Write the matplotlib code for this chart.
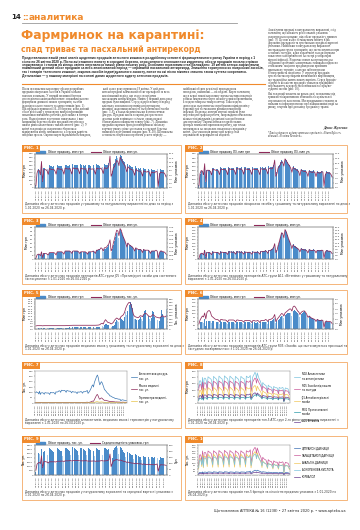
import textwrap
import numpy as np
import pandas as pd
import matplotlib
matplotlib.use('Agg')
import matplotlib.pyplot as plt
from matplotlib.patches import Rectangle, Patch
from matplotlib.lines import Line2D

# daily data, 1.01.2020 - 26.04.2020 (first row Wed-Sun, then Mon-Sun weeks)
DATES = pd.date_range('2020-01-01', '2020-04-26', freq='D')
DAY_LABELS = [d.strftime('%d.%m.%y') for d in DATES]

FIG1_SALES = [
    40, 210, 250, 240, 180,
    330, 90, 270, 270, 270, 250, 200,
    300, 290, 285, 280, 285, 260, 210,
    305, 295, 290, 288, 290, 262, 212,
    310, 300, 295, 292, 300, 268, 215,
    315, 305, 300, 298, 305, 270, 218,
    312, 302, 298, 295, 300, 268, 216,
    310, 300, 296, 294, 298, 266, 214,
    312, 302, 298, 296, 310, 275, 222,
    318, 308, 305, 310, 335, 400, 190,
    230, 320, 330, 380, 420, 400, 330,
    440, 420, 390, 360, 340, 300, 240,
    320, 300, 290, 280, 275, 245, 195,
    285, 270, 262, 258, 262, 235, 185,
    268, 255, 250, 248, 258, 240, 180,
    250, 240, 235, 240, 255, 250, 30,
    200, 245, 238, 232, 235, 212, 170]
FIG1_PACKS = [
    1.0, 7.0, 8.5, 8.2, 6.2,
    12.5, 3.0, 8.6, 8.6, 8.6, 8.0, 6.4,
    9.2, 8.9, 8.7, 8.6, 8.7, 8.0, 6.5,
    9.3, 9.0, 8.9, 8.8, 8.9, 8.1, 6.5,
    9.4, 9.1, 9.0, 8.9, 9.2, 8.2, 6.6,
    9.5, 9.2, 9.1, 9.0, 9.3, 8.3, 6.7,
    9.4, 9.1, 9.0, 8.9, 9.1, 8.2, 6.6,
    9.3, 9.0, 8.9, 8.9, 9.0, 8.1, 6.5,
    9.4, 9.1, 9.0, 9.0, 9.4, 8.4, 6.8,
    9.6, 9.3, 9.2, 9.4, 10.5, 15.0, 5.5,
    6.8, 9.6, 10.0, 11.5, 13.0, 12.5, 10.5,
    14.5, 13.5, 12.5, 11.5, 10.8, 9.5, 7.6,
    10.0, 9.4, 9.0, 8.7, 8.6, 7.6, 6.0,
    8.8, 8.3, 8.0, 7.9, 8.0, 7.2, 5.6,
    8.2, 7.8, 7.6, 7.5, 7.9, 7.4, 5.5,
    7.6, 7.3, 7.1, 7.3, 7.8, 7.7, 0.8,
    6.0, 7.5, 7.3, 7.1, 7.2, 6.5, 5.2]

FIG2_SALES = [
    30, 170, 200, 195, 145,
    255, 70, 215, 215, 215, 200, 160,
    240, 232, 228, 224, 228, 208, 168,
    244, 236, 232, 230, 232, 210, 170,
    248, 240, 236, 234, 240, 214, 172,
    252, 244, 240, 238, 244, 216, 174,
    250, 242, 238, 236, 240, 214, 173,
    248, 240, 237, 235, 238, 213, 171,
    250, 242, 238, 237, 248, 220, 178,
    254, 246, 244, 248, 268, 300, 150,
    185, 258, 268, 300, 325, 315, 265,
    345, 330, 308, 288, 272, 240, 192,
    256, 240, 232, 224, 220, 196, 156,
    228, 216, 210, 206, 210, 188, 148,
    214, 204, 200, 198, 206, 192, 144,
    200, 192, 188, 192, 204, 200, 25,
    160, 196, 190, 186, 188, 170, 136]
FIG2_PACKS = [
    0.8, 6.0, 7.2, 7.0, 5.3,
    10.0, 2.5, 7.3, 7.3, 7.3, 6.8, 5.4,
    7.8, 7.6, 7.4, 7.3, 7.4, 6.8, 5.5,
    7.9, 7.7, 7.6, 7.5, 7.6, 6.9, 5.5,
    8.0, 7.8, 7.7, 7.6, 7.8, 7.0, 5.6,
    8.1, 7.9, 7.8, 7.7, 7.9, 7.1, 5.7,
    8.0, 7.8, 7.7, 7.6, 7.8, 7.0, 5.6,
    7.9, 7.7, 7.6, 7.6, 7.7, 6.9, 5.5,
    8.0, 7.8, 7.7, 7.7, 8.0, 7.2, 5.8,
    8.2, 8.0, 7.9, 8.0, 9.0, 11.5, 4.8,
    6.0, 8.3, 8.7, 9.8, 10.8, 10.5, 9.0,
    12.0, 11.3, 10.5, 9.7, 9.1, 8.1, 6.5,
    8.5, 8.0, 7.7, 7.4, 7.3, 6.5, 5.1,
    7.5, 7.1, 6.9, 6.8, 6.9, 6.2, 4.8,
    7.0, 6.7, 6.5, 6.4, 6.8, 6.4, 4.7,
    6.5, 6.3, 6.1, 6.3, 6.7, 6.6, 0.7,
    5.2, 6.4, 6.3, 6.1, 6.2, 5.6, 4.5]

FIG3_SALES = [
    1, 5, 6, 6, 4,
    8, 2, 7, 7, 7, 6, 5,
    8, 8, 8, 8, 8, 7, 5,
    9, 9, 9, 9, 9, 8, 6,
    10, 10, 10, 10, 10, 9, 7,
    10, 10, 10, 10, 10, 9, 7,
    9, 9, 9, 9, 9, 8, 6,
    9, 9, 9, 9, 10, 9, 7,
    11, 11, 11, 12, 13, 12, 9,
    13, 13, 14, 15, 17, 20, 9,
    12, 18, 22, 28, 33, 32, 26,
    36, 34, 30, 27, 24, 20, 15,
    20, 18, 17, 16, 15, 13, 10,
    14, 13, 12, 12, 12, 11, 8,
    12, 11, 11, 11, 11, 10, 7,
    10, 10, 10, 10, 11, 10, 1,
    8, 10, 10, 9, 9, 8, 6]
FIG3_PACKS = [
    0.1, 0.5, 0.6, 0.6, 0.4,
    0.9, 0.2, 0.7, 0.7, 0.7, 0.6, 0.5,
    0.8, 0.8, 0.8, 0.8, 0.8, 0.7, 0.5,
    0.9, 0.9, 0.9, 0.9, 0.9, 0.8, 0.6,
    1.0, 1.0, 1.0, 1.0, 1.0, 0.9, 0.7,
    1.0, 1.0, 1.0, 1.0, 1.0, 0.9, 0.7,
    0.9, 0.9, 0.9, 0.9, 0.9, 0.8, 0.6,
    0.9, 0.9, 0.9, 0.9, 1.0, 0.9, 0.7,
    1.1, 1.1, 1.2, 1.2, 1.4, 1.3, 1.0,
    1.4, 1.4, 1.5, 1.7, 1.9, 2.4, 1.0,
    1.3, 2.0, 2.5, 3.1, 3.6, 3.5, 2.9,
    3.8, 3.6, 3.1, 2.7, 2.4, 2.0, 1.5,
    2.0, 1.8, 1.7, 1.6, 1.5, 1.3, 1.0,
    1.4, 1.3, 1.2, 1.2, 1.2, 1.1, 0.8,
    1.2, 1.1, 1.1, 1.1, 1.1, 1.0, 0.7,
    1.0, 1.0, 1.0, 1.0, 1.1, 1.0, 0.1,
    0.8, 1.0, 1.0, 0.9, 0.9, 0.8, 0.6]

FIG4_SALES = [
    5, 40, 50, 48, 35,
    70, 15, 55, 55, 55, 50, 38,
    60, 58, 57, 56, 57, 52, 40,
    60, 58, 57, 56, 57, 52, 40,
    62, 60, 59, 58, 60, 54, 42,
    62, 60, 59, 58, 60, 54, 42,
    60, 58, 57, 57, 58, 53, 41,
    60, 58, 58, 57, 60, 54, 42,
    64, 62, 62, 64, 70, 64, 48,
    72, 72, 76, 82, 95, 120, 55,
    70, 110, 140, 175, 205, 200, 165,
    225, 210, 185, 160, 140, 115, 85,
    115, 105, 98, 92, 88, 78, 60,
    85, 80, 77, 75, 76, 68, 52,
    78, 74, 72, 72, 75, 70, 52,
    72, 70, 68, 70, 74, 72, 8,
    58, 70, 68, 66, 66, 60, 46]
FIG4_PACKS = [
    0.4, 3.6, 4.5, 4.4, 3.2,
    6.8, 1.2, 5.0, 5.0, 5.0, 4.6, 3.4,
    5.5, 5.3, 5.2, 5.1, 5.2, 4.7, 3.6,
    5.5, 5.3, 5.2, 5.1, 5.2, 4.7, 3.6,
    5.7, 5.5, 5.4, 5.3, 5.5, 4.9, 3.8,
    5.7, 5.5, 5.4, 5.3, 5.5, 4.9, 3.8,
    5.5, 5.3, 5.2, 5.2, 5.3, 4.8, 3.7,
    5.5, 5.3, 5.3, 5.2, 5.5, 4.9, 3.8,
    5.9, 5.7, 5.7, 5.9, 6.5, 5.9, 4.4,
    6.7, 6.7, 7.1, 7.7, 9.0, 12.0, 5.0,
    6.5, 10.5, 13.5, 17.0, 20.5, 20.0, 16.5,
    23.0, 21.5, 18.8, 16.0, 13.8, 11.2, 8.2,
    11.0, 10.0, 9.3, 8.7, 8.3, 7.4, 5.6,
    8.0, 7.5, 7.2, 7.0, 7.1, 6.3, 4.8,
    7.3, 6.9, 6.7, 6.7, 7.0, 6.5, 4.8,
    6.7, 6.5, 6.3, 6.5, 6.9, 6.7, 0.7,
    5.3, 6.5, 6.3, 6.1, 6.1, 5.5, 4.2]

FIG5_SALES = [
    0.2, 0.8, 0.9, 0.9, 0.7,
    1.1, 0.3, 0.9, 0.9, 0.9, 0.8, 0.6,
    1.0, 1.0, 1.0, 1.0, 1.0, 0.9, 0.7,
    1.1, 1.1, 1.1, 1.1, 1.1, 1.0, 0.8,
    1.3, 1.3, 1.4, 1.5, 1.6, 1.5, 1.2,
    1.8, 1.8, 1.8, 1.8, 1.8, 1.6, 1.3,
    1.7, 1.7, 1.7, 1.7, 1.7, 1.5, 1.2,
    1.7, 1.7, 1.7, 1.6, 1.7, 1.5, 1.2,
    1.8, 1.8, 2.0, 2.2, 2.8, 2.6, 2.2,
    4.5, 5.5, 4.8, 4.2, 4.0, 3.5, 2.2,
    2.8, 3.5, 4.5, 7.0, 9.5, 8.5, 7.0,
    11.0, 10.5, 9.0, 8.0, 12.0, 17.0, 14.0,
    18.0, 24.0, 27.0, 25.0, 21.0, 15.0, 10.0,
    10.0, 9.5, 9.0, 10.0, 12.0, 10.0, 8.0,
    14.0, 18.0, 19.5, 17.0, 13.0, 10.0, 8.0,
    11.0, 18.0, 17.0, 12.0, 10.0, 9.0, 1.0,
    8.0, 12.0, 19.0, 15.0, 12.0, 13.0, 20.0]
FIG5_PACKS = [
    90, 100, 100, 100, 100,
    100, 95, 100, 100, 100, 100, 100,
    100, 100, 100, 100, 100, 100, 100,
    100, 100, 100, 100, 100, 100, 100,
    100, 102, 104, 106, 108, 110, 110,
    112, 112, 112, 112, 112, 112, 112,
    112, 112, 112, 112, 112, 112, 112,
    112, 112, 112, 112, 112, 112, 112,
    114, 116, 120, 130, 160, 170, 150,
    230, 280, 240, 200, 190, 180, 150,
    170, 200, 260, 300, 330, 310, 280,
    320, 380, 400, 430, 500, 620, 700,
    760, 800, 780, 700, 560, 420, 380,
    360, 350, 340, 360, 400, 390, 370,
    440, 460, 470, 440, 400, 380, 360,
    390, 430, 420, 380, 360, 350, 340,
    330, 350, 380, 400, 370, 360, 390]

FIG6_SALES = [
    10, 45, 50, 50, 38,
    70, 20, 55, 56, 56, 52, 40,
    56, 54, 52, 50, 50, 46, 36,
    52, 50, 48, 47, 47, 43, 34,
    50, 48, 47, 46, 47, 43, 33,
    50, 48, 47, 46, 47, 42, 33,
    48, 46, 45, 44, 45, 41, 32,
    46, 44, 43, 43, 44, 40, 31,
    46, 44, 44, 45, 50, 46, 36,
    52, 52, 55, 58, 65, 75, 40,
    52, 60, 70, 80, 88, 85, 72,
    95, 100, 104, 108, 110, 104, 88,
    118, 125, 122, 112, 104, 98, 82,
    100, 108, 115, 118, 110, 96, 76,
    88, 82, 76, 72, 70, 64, 50,
    64, 60, 58, 58, 60, 58, 8,
    45, 52, 50, 48, 48, 44, 35]
FIG6_PACKS = [
    1.0, 1.8, 2.2, 2.6, 2.4,
    3.2, 2.0, 3.3, 3.6, 3.7, 3.4, 2.6,
    2.4, 2.2, 2.0, 1.9, 1.9, 1.8, 1.5,
    1.9, 1.9, 1.8, 1.8, 1.8, 1.7, 1.4,
    1.8, 1.8, 1.8, 1.8, 1.8, 1.7, 1.4,
    1.8, 1.8, 1.7, 1.7, 1.7, 1.6, 1.4,
    1.7, 1.7, 1.7, 1.7, 1.7, 1.6, 1.3,
    1.7, 1.7, 1.6, 1.6, 1.7, 1.6, 1.3,
    1.7, 1.7, 1.7, 1.7, 1.9, 1.8, 1.5,
    1.9, 1.9, 2.0, 2.1, 2.4, 2.9, 1.5,
    1.9, 2.2, 2.5, 2.8, 3.1, 3.0, 2.6,
    3.2, 3.4, 3.6, 3.8, 4.0, 4.0, 3.6,
    4.4, 4.6, 4.4, 4.0, 3.6, 3.4, 2.9,
    3.3, 3.5, 3.6, 3.6, 3.3, 2.9, 2.3,
    2.6, 2.4, 2.2, 2.1, 2.0, 1.9, 1.5,
    1.9, 1.8, 1.7, 1.7, 1.8, 1.7, 0.3,
    1.4, 1.6, 1.5, 1.5, 1.5, 1.4, 1.1]

FIG7_ANTISEPTIC = [
    95, 105, 100, 98, 85,
    110, 80, 95, 95, 96, 92, 82,
    98, 95, 94, 93, 95, 90, 80,
    100, 97, 96, 96, 98, 92, 82,
    105, 102, 104, 108, 115, 112, 100,
    120, 118, 116, 115, 118, 112, 100,
    118, 115, 112, 110, 112, 106, 95,
    108, 105, 103, 102, 104, 98, 88,
    104, 102, 102, 104, 108, 102, 92,
    106, 105, 106, 108, 112, 118, 90,
    100, 110, 125, 140, 160, 170, 150,
    190, 210, 230, 250, 262, 240, 200,
    170, 185, 200, 190, 170, 150, 125,
    120, 110, 100, 92, 86, 78, 66,
    66, 60, 56, 52, 50, 46, 40,
    42, 40, 38, 36, 36, 34, 20,
    28, 30, 28, 26, 25, 24, 22]
FIG7_MASKS = [
    4, 5, 5, 5, 4,
    6, 3, 5, 5, 5, 5, 4,
    5, 5, 5, 5, 5, 5, 4,
    5, 5, 5, 5, 5, 5, 4,
    5, 5, 5, 6, 6, 6, 5,
    6, 6, 6, 6, 6, 6, 5,
    6, 6, 6, 6, 6, 5, 5,
    5, 5, 5, 5, 5, 5, 4,
    5, 5, 5, 5, 6, 6, 5,
    6, 6, 6, 6, 7, 8, 5,
    6, 7, 9, 12, 16, 18, 16,
    30, 45, 60, 75, 80, 65, 45,
    35, 42, 48, 44, 36, 30, 24,
    26, 24, 22, 20, 18, 16, 13,
    15, 14, 13, 12, 12, 11, 9,
    10, 10, 9, 9, 9, 8, 4,
    7, 8, 8, 7, 7, 7, 6]
FIG7_THERMO = [
    2, 2, 2, 2, 2,
    2, 1, 2, 2, 2, 2, 2,
    2, 2, 2, 2, 2, 2, 2,
    2, 2, 2, 2, 2, 2, 2,
    2, 2, 2, 2, 2, 2, 2,
    2, 2, 2, 2, 2, 2, 2,
    2, 2, 2, 2, 2, 2, 2,
    2, 2, 2, 2, 2, 2, 2,
    2, 2, 2, 2, 2, 2, 2,
    2, 2, 2, 2, 3, 3, 2,
    2, 2, 3, 3, 4, 4, 4,
    6, 8, 10, 12, 12, 10, 8,
    8, 9, 10, 9, 8, 7, 6,
    6, 5, 5, 5, 4, 4, 3,
    3, 3, 3, 3, 3, 3, 3,
    3, 3, 3, 3, 3, 3, 1,
    2, 3, 3, 3, 3, 3, 2]

FIG8_N02 = [
    120, 170, 175, 165, 120,
    200, 110, 190, 195, 190, 170, 120,
    205, 200, 195, 190, 185, 160, 115,
    208, 202, 196, 190, 186, 160, 116,
    210, 204, 198, 192, 188, 162, 118,
    212, 205, 200, 194, 190, 164, 118,
    210, 204, 198, 192, 188, 162, 116,
    208, 202, 196, 190, 186, 160, 115,
    208, 202, 196, 192, 190, 165, 120,
    210, 205, 200, 198, 205, 215, 110,
    150, 200, 215, 225, 240, 230, 190,
    235, 215, 195, 180, 170, 150, 115,
    160, 150, 145, 140, 138, 120, 95,
    140, 132, 128, 125, 124, 110, 88,
    130, 124, 120, 118, 120, 112, 85,
    122, 118, 115, 116, 122, 118, 40,
    100, 118, 115, 112, 112, 100, 80]
FIG8_R05 = [
    100, 140, 145, 138, 100,
    165, 90, 155, 158, 155, 140, 100,
    168, 164, 160, 156, 152, 132, 95,
    170, 166, 161, 157, 153, 133, 96,
    172, 167, 162, 158, 154, 134, 97,
    173, 168, 163, 159, 155, 135, 97,
    172, 167, 162, 158, 154, 134, 96,
    170, 165, 160, 156, 152, 132, 95,
    170, 165, 160, 157, 155, 136, 98,
    172, 168, 164, 162, 168, 175, 90,
    122, 162, 175, 185, 195, 188, 155,
    190, 175, 160, 148, 140, 124, 95,
    132, 124, 120, 116, 114, 100, 78,
    116, 110, 106, 104, 103, 92, 72,
    108, 103, 100, 98, 100, 93, 70,
    101, 98, 95, 96, 101, 98, 32,
    82, 98, 95, 93, 93, 83, 66]
FIG8_J01 = [
    50, 95, 100, 90, 50,
    120, 45, 110, 112, 108, 90, 50,
    120, 115, 110, 104, 98, 75, 42,
    122, 117, 111, 105, 99, 76, 43,
    124, 118, 112, 106, 100, 77, 43,
    125, 119, 113, 107, 101, 78, 44,
    124, 118, 112, 106, 100, 77, 43,
    122, 116, 110, 104, 98, 75, 42,
    122, 116, 110, 105, 100, 78, 45,
    124, 118, 113, 110, 115, 120, 40,
    70, 115, 125, 130, 138, 128, 95,
    132, 120, 108, 98, 92, 76, 50,
    95, 88, 84, 80, 78, 64, 44,
    82, 78, 75, 73, 72, 62, 42,
    76, 72, 70, 68, 70, 63, 40,
    70, 68, 66, 67, 72, 70, 15,
    55, 68, 66, 64, 64, 55, 38]
FIG8_M01 = [
    20, 35, 38, 36, 28,
    42, 22, 40, 41, 40, 37, 28,
    44, 43, 42, 41, 41, 37, 28,
    45, 44, 43, 42, 41, 37, 28,
    45, 44, 43, 42, 42, 38, 29,
    46, 45, 44, 43, 42, 38, 29,
    45, 44, 43, 42, 41, 37, 28,
    44, 43, 42, 41, 41, 37, 28,
    44, 43, 42, 42, 42, 38, 29,
    45, 44, 44, 44, 46, 50, 26,
    34, 46, 52, 58, 64, 62, 52,
    66, 62, 56, 52, 48, 42, 32,
    46, 43, 41, 40, 39, 35, 27,
    40, 38, 37, 36, 36, 32, 25,
    37, 36, 35, 34, 35, 32, 24,
    35, 34, 33, 34, 35, 34, 10,
    28, 34, 33, 32, 32, 29, 23]
FIG8_A11 = [
    30, 55, 58, 55, 40,
    68, 32, 62, 63, 62, 56, 40,
    66, 64, 63, 62, 61, 55, 40,
    67, 65, 64, 62, 61, 55, 40,
    68, 66, 64, 63, 62, 56, 41,
    68, 66, 65, 63, 62, 56, 41,
    67, 65, 64, 62, 61, 55, 40,
    66, 64, 63, 62, 61, 55, 40,
    66, 64, 63, 62, 62, 56, 41,
    66, 65, 64, 64, 67, 72, 36,
    48, 66, 72, 76, 80, 76, 62,
    78, 72, 66, 62, 58, 52, 40,
    60, 57, 55, 54, 53, 47, 36,
    54, 52, 50, 49, 49, 44, 34,
    50, 48, 47, 46, 47, 44, 33,
    47, 46, 45, 46, 48, 46, 14,
    38, 46, 45, 44, 44, 40, 31]

FIG9_PACKS = [
    400, 2400, 2600, 2500, 1500,
    3000, 900, 2700, 2750, 2700, 2300, 1500,
    3100, 3000, 2900, 2800, 2700, 2200, 1450,
    3150, 3050, 2950, 2850, 2750, 2250, 1480,
    3200, 3100, 3000, 2900, 2800, 2280, 1500,
    3250, 3150, 3050, 2950, 2850, 2300, 1520,
    3200, 3100, 3000, 2900, 2800, 2280, 1500,
    3150, 3050, 2950, 2850, 2750, 2250, 1480,
    3150, 3050, 2950, 2880, 2850, 2300, 1520,
    3200, 3100, 3000, 2950, 3000, 3100, 1300,
    2000, 2900, 3100, 3250, 3350, 3150, 2500,
    3300, 3100, 2900, 2700, 2550, 2150, 1500,
    2700, 2550, 2450, 2350, 2300, 1900, 1350,
    2400, 2300, 2200, 2150, 2150, 1800, 1250,
    2250, 2150, 2100, 2050, 2100, 1850, 1200,
    2100, 2050, 2000, 2050, 2150, 2000, 300,
    1700, 2050, 2000, 1950, 1950, 1700, 1200]
FIG9_PRICE = [
    40, 90, 100, 105, 95,
    160, 60, 110, 112, 110, 108, 100,
    110, 110, 110, 110, 110, 110, 108,
    115, 115, 115, 115, 116, 116, 112,
    118, 118, 118, 118, 120, 120, 116,
    120, 120, 120, 120, 121, 121, 118,
    118, 118, 118, 118, 119, 119, 116,
    116, 116, 116, 116, 117, 117, 114,
    116, 116, 116, 117, 119, 120, 116,
    118, 118, 119, 121, 126, 175, 70,
    95, 118, 122, 126, 128, 126, 122,
    125, 122, 118, 115, 112, 110, 106,
    108, 104, 102, 100, 99, 98, 95,
    98, 96, 94, 93, 93, 92, 89,
    92, 90, 88, 88, 89, 89, 86,
    88, 86, 85, 86, 88, 92, 30,
    70, 86, 85, 84, 84, 83, 80]

FIG10_CITRAMON = [
    10, 20, 22, 21, 16,
    26, 12, 24, 24, 24, 22, 16,
    26, 25, 25, 24, 24, 22, 16,
    27, 26, 25, 24, 24, 22, 16,
    27, 26, 25, 25, 24, 22, 17,
    27, 26, 26, 25, 24, 22, 17,
    26, 25, 25, 24, 24, 22, 16,
    26, 25, 25, 24, 24, 22, 16,
    26, 25, 25, 24, 25, 23, 17,
    26, 26, 26, 27, 28, 32, 15,
    20, 28, 32, 36, 40, 38, 32,
    40, 37, 34, 31, 29, 26, 20,
    28, 26, 25, 24, 24, 21, 16,
    24, 23, 22, 22, 22, 20, 15,
    22, 21, 21, 20, 21, 19, 14,
    21, 20, 20, 20, 21, 20, 6,
    17, 20, 20, 19, 19, 17, 13]
FIG10_PARACETAMOL = [
    80, 160, 170, 160, 110,
    200, 90, 185, 188, 185, 165, 115,
    200, 195, 190, 185, 180, 155, 110,
    202, 197, 191, 186, 181, 156, 111,
    204, 198, 192, 187, 182, 157, 112,
    205, 199, 193, 188, 183, 158, 112,
    204, 198, 192, 187, 182, 157, 111,
    202, 196, 190, 185, 180, 155, 110,
    202, 196, 190, 186, 182, 158, 113,
    202, 198, 194, 192, 198, 210, 100,
    140, 195, 210, 220, 230, 222, 180,
    225, 205, 185, 168, 158, 138, 100,
    148, 138, 132, 128, 125, 108, 82,
    128, 120, 116, 113, 112, 98, 76,
    118, 112, 108, 106, 108, 100, 74,
    110, 106, 103, 104, 110, 106, 30,
    88, 106, 103, 100, 100, 90, 70]
FIG10_ANALGIN = [
    50, 130, 140, 125, 70,
    170, 60, 155, 158, 150, 125, 70,
    172, 165, 156, 146, 138, 108, 64,
    174, 166, 157, 147, 139, 109, 65,
    175, 167, 158, 148, 140, 110, 65,
    176, 168, 159, 149, 141, 110, 66,
    175, 167, 158, 148, 140, 110, 65,
    173, 165, 156, 146, 138, 108, 64,
    173, 165, 157, 148, 142, 112, 66,
    174, 166, 158, 152, 160, 170, 60,
    100, 160, 175, 185, 195, 182, 135,
    185, 165, 145, 128, 118, 96, 62,
    118, 108, 102, 97, 94, 78, 54,
    100, 94, 90, 87, 86, 72, 50,
    92, 86, 83, 81, 83, 74, 48,
    85, 82, 79, 80, 86, 82, 18,
    66, 82, 79, 76, 76, 66, 46]
FIG10_ASCORBIC = [
    60, 120, 128, 120, 85,
    150, 70, 140, 142, 140, 125, 88,
    152, 148, 144, 140, 136, 118, 84,
    153, 149, 145, 141, 137, 118, 85,
    154, 150, 146, 142, 138, 119, 85,
    155, 151, 147, 143, 139, 120, 86,
    154, 150, 146, 142, 138, 119, 85,
    152, 148, 144, 140, 136, 118, 84,
    152, 148, 145, 142, 139, 121, 86,
    154, 150, 147, 146, 150, 160, 78,
    108, 148, 160, 168, 175, 168, 136,
    170, 155, 140, 128, 120, 105, 76,
    112, 105, 100, 97, 95, 82, 62,
    97, 91, 88, 86, 85, 74, 58,
    90, 85, 82, 80, 82, 76, 56,
    84, 80, 78, 79, 84, 80, 22,
    67, 80, 78, 76, 76, 68, 53]
FIG10_CORVALOL = [
    6, 12, 13, 12, 9,
    16, 7, 14, 14, 14, 13, 9,
    16, 15, 15, 15, 15, 13, 10,
    16, 16, 15, 15, 15, 13, 10,
    17, 16, 15, 15, 15, 13, 10,
    17, 16, 16, 15, 15, 13, 10,
    16, 16, 15, 15, 15, 13, 10,
    16, 15, 15, 15, 15, 13, 10,
    16, 15, 15, 15, 15, 14, 10,
    16, 16, 16, 16, 17, 19, 9,
    12, 17, 19, 21, 23, 22, 18,
    23, 21, 19, 18, 17, 15, 11,
    16, 15, 14, 14, 14, 12, 9,
    14, 13, 13, 13, 13, 12, 9,
    13, 12, 12, 12, 12, 11, 8,
    12, 12, 11, 12, 12, 12, 3,
    10, 12, 12, 11, 11, 10, 8]

LEAD = ('Представляємо вашій увазі аналіз щоденних продажів аптечного кошика в роздрібному сегменті фармацевтичного ринку України в період '
        'з 1 січня по 26 квітня 2020 р. Після ажіотажного попиту в середині березня, спричиненого оголошенням карантину, обсяги продажів '
        'почали стрімко знижуватися і станом на кінець квітня опустилися нижче рівня початку року. Особливо показовим став Великдень: '
        '19 квітня аптеки зафіксували найменший денний обсяг продажів за весь аналізований період — справжній пасхальний антирекорд. '
        'Зниження торкнулося як лікарських засобів, так і товарів «аптечного кошика», зокрема засобів індивідуального захисту, попит на які '
        'після пікових значень також суттєво скоротився. Детальніше — у нашому матеріалі на основі даних щоденного аудиту аптечних продажів.')

BODY = ('Після оголошення карантину обсяги роздрібних продажів лікарських засобів в Україні зазнали значних коливань. У першій половині '
        'березня спостерігався ажіотажний попит: споживачі масово формували домашні запаси препаратів, засобів індивідуального захисту '
        'та антисептиків (рис. 1). Пік продажів припав на 16–18 березня, коли денний обсяг реалізації у грошовому вимірі перевищив '
        'показники звичайних робочих днів майже в півтора раза. Надалі попит поступово знижувався, і вже наприкінці березня обсяги '
        'продажів опустилися нижче рівня аналогічних тижнів лютого (рис. 2). У квітні тенденція до скорочення збереглася: відвідування '
        'аптек зменшилося, а середня вартість покупки зросла. Окремо варто відзначити Великдень, який цього року припав на 19 квітня. '
        'У цей день аптеки продали найменший обсяг препаратів за весь аналізований період, що стало своєрідним пасхальним антирекордом. '
        'Навіть у перший день року продажі були вищими. Серед лідерів попиту в період ажіотажу опинилися противірусні препарати, '
        'вітаміни, жарознижувальні та знеболювальні засоби (рис. 3–6), а також медичні маски й антисептики для рук. Продажі масок '
        'в окремі дні зростали в десятки разів порівняно з січнем, однак надалі обмежувалися наявністю товару (рис. 7). Динаміка продажів '
        'окремих брендів повторювала загальну картину ринку: різке зростання в середині березня змінилося поступовим спадом (рис. 8–10). '
        'Щотижнева сезонність зберігалася протягом усього періоду — найбільші обсяги реалізації припадали на понеділок, найменші — на неділю. '
        'Варто зазначити, що в перші тижні карантину значна частина покупців робила замовлення через онлайн-сервіси бронювання, '
        'а згодом забирала товар в аптеці. Така модель дозволила скоротити час перебування відвідувачів у торговій залі та зменшити '
        'ризики поширення інфекції. Водночас аптечні мережі змушені були переглянути графіки роботи, запровадити обмеження кількості '
        'відвідувачів і додаткові заходи безпеки для персоналу. Окремі аптеки в торговельних центрах тимчасово припинили роботу, що '
        'також позначилося на загальних показниках продажів у квітні. Для учасників ринку цей період став справжньою перевіркою на міцність.')

RIGHT_TEXT = ('Аналізуючи продажі в натуральному вираженні, слід зазначити, що кількість реалізованих упаковок скорочувалася швидше, '
              'ніж обсяг продажів у гривнях (рис. 9). Це пов’язано зі зміщенням попиту в бік дорожчих препаратів та зростанням '
              'середньої вартості упаковки. Найбільше в натуральному вираженні постраждали групи препаратів, що застосовуються при '
              'сезонних застудах, адже карантинні заходи сприяли зниженню захворюваності на гострі респіраторні вірусні інфекції. '
              'Водночас попит на препарати для лікування хронічних захворювань залишався відносно стабільним: пацієнти продовжували '
              'приймати призначену терапію, а аптеки забезпечували безперервність лікування. У структурі продажів зросла частка '
              'препаратів вітчизняного виробництва, що традиційно мають нижчу вартість. Серед брендів-лідерів за кількістю '
              'проданих упаковок традиційно переважають недорогі знеболювальні та серцево-судинні засоби (рис. 10).')
RIGHT_TEXT_2 = ('Які тенденції чекають на ринок далі, залежатиме від тривалості карантинних обмежень та купівельної спроможності '
                'населення. Ми продовжимо стежити за змінами та інформувати вас про найважливіші події на ринку, зокрема '
                'про динаміку продажів у травні.')

W, H = 360, 530
ORANGE = '#f08a2c'
BORDER = '#f5b57a'
BLUE = '#4a8bc9'
BLUE_LIGHT = '#a6cbeb'
WINE = '#8e2a5a'
INK = '#333333'
SANS = ['DejaVu Sans']
SERIF = ['Liberation Serif', 'DejaVu Serif']

fig = plt.figure(figsize=(3.6, 5.3), dpi=100)
fig.patch.set_facecolor('white')


def frect(x, y, w, h):
    return [x / W, 1 - (y + h) / H, w / W, h / H]


def ftext(x, y, s, **kw):
    kw.setdefault('color', INK)
    return fig.text(x / W, 1 - y / H, s, **kw)


def frame(x, y, w, h, **kw):
    fig.add_artist(Rectangle((x / W, 1 - (y + h) / H), w / W, h / H,
                             transform=fig.transFigure, **kw))


def hline(x0, x1, y, color, lw):
    fig.add_artist(Line2D([x0 / W, x1 / W], [1 - y / H, 1 - y / H],
                          transform=fig.transFigure, color=color, lw=lw))


def text_block(x, y, lines, step, **kw):
    for i, ln in enumerate(lines):
        ftext(x, y + i * step, ln, va='top', **kw)


def style_axes(ax):
    ax.patch.set_alpha(0)
    for s in ax.spines.values():
        s.set_linewidth(0.3)
        s.set_color('#777777')
    ax.tick_params(labelsize=1.7, length=0.8, width=0.25, pad=0.5, colors=INK)
    ax.set_xlim(-0.8, len(DATES) - 0.2)
    ax.set_xticks(np.arange(0, len(DATES), 3))
    ax.set_xticklabels(DAY_LABELS[::3], rotation=90)


def panel(x, y, w, h, num, caption):
    # panel background sits under the axes
    frame(x, y, w, h, facecolor='white', edgecolor=BORDER, lw=0.7, zorder=-5)
    frame(x, y, 18, 6.5, facecolor=ORANGE, edgecolor='none', zorder=5)
    ftext(x + 2.5, y + 3.4, 'РИС. %d' % num, fontsize=2.8, color='white',
          weight='bold', va='center', zorder=6)
    cap = textwrap.wrap(caption, 100)
    text_block(x + 3, y + h - 10.5, cap, 3.2, fontsize=2.1, family=SANS)


def bar_chart(x, y, w, h, num, sales, packs, names, ylabels, left, right, caption):
    panel(x, y, w, h, num, caption)
    ax = fig.add_axes(frect(x + 13, y + 9, w - 27, h - 34))
    xs = np.arange(len(DATES))
    colors = np.where(DATES.dayofweek >= 5, BLUE_LIGHT, BLUE)
    ax.bar(xs, sales, width=0.85, color=colors, linewidth=0)
    ax2 = ax.twinx()
    ax2.plot(xs, packs, color=WINE, lw=0.55)
    style_axes(ax)
    style_axes(ax2)
    ax.set_ylim(0, left[0])
    ax.set_yticks(np.arange(0, left[0] + 1e-9, left[1]))
    ax2.set_ylim(0, right[0])
    ax2.set_yticks(np.arange(0, right[0] + 1e-9, right[1]))
    ax2.yaxis.set_major_formatter(right[2])
    ax.set_ylabel(ylabels[0], fontsize=2.2, labelpad=1)
    ax2.set_ylabel(ylabels[1], fontsize=2.2, labelpad=1)
    handles = [Patch(color=BLUE), Line2D([], [], color=WINE, lw=0.8)]
    ax.legend(handles, names, loc='lower left', bbox_to_anchor=(0.0, 0.98), ncol=2,
              fontsize=2, frameon=False, handlelength=3.5, handleheight=0.8,
              columnspacing=3, borderaxespad=0.1, borderpad=0.1)


def line_chart(x, y, w, h, num, series, names, colors, top, step, ylabel, caption):
    panel(x, y, w, h, num, caption)
    ax = fig.add_axes(frect(x + 13, y + 9, 92, h - 34))
    xs = np.arange(len(DATES))
    for s, n, c in zip(series, names, colors):
        ax.plot(xs, s, color=c, lw=0.5, label=n)
    style_axes(ax)
    ax.set_ylim(0, top)
    ax.set_yticks(np.arange(0, top + 1e-9, step))
    ax.set_ylabel(ylabel, fontsize=2.2, labelpad=1)
    ax.legend(loc='upper left', bbox_to_anchor=(1.03, 1.0), fontsize=1.8, frameon=False,
              handlelength=2.6, handletextpad=0.5, labelspacing=1.3, borderaxespad=0.0)


# ---------- header ----------
ftext(11, 17, '14', fontsize=5, weight='bold', color='#222222', va='center')
ftext(22, 17, '::', fontsize=6, weight='bold', color=ORANGE, va='center')
ftext(29, 17, 'аналитика', fontsize=6.5, weight='bold', color=ORANGE, va='center')
hline(22, 237, 23, '#999999', 0.6)
ftext(21, 35.5, 'Фармринок на карантині:', fontsize=8.9, weight='bold', color=ORANGE,
      va='center')
ftext(21, 49.5, 'спад триває та пасхальний антирекорд', fontsize=5.6, weight='bold',
      color=ORANGE, va='center')
text_block(22, 56, textwrap.wrap(LEAD, 138), 3.5, fontsize=2.3, weight='bold',
           family=['Liberation Sans', 'DejaVu Sans'], color='#222222')
hline(22, 265, 83.5, ORANGE, 0.8)

body_lines = textwrap.wrap(BODY, 50)
n = 15
for k, cx in enumerate([22, 102, 183]):
    text_block(cx, 87, body_lines[k * n:(k + 1) * n], 3.3, fontsize=2.2, family=SERIF)

right_lines = textwrap.wrap(RIGHT_TEXT, 52)
text_block(268, 28, right_lines, 3.3, fontsize=2.2, family=SERIF)
right_lines_2 = textwrap.wrap(RIGHT_TEXT_2, 52)
text_block(268, 28 + 3.3 * len(right_lines) + 1.5, right_lines_2, 3.3, fontsize=2.2,
           family=SERIF)
ftext(348, 128, 'Денис Жуленко', fontsize=2.6, weight='bold', style='italic', ha='right',
      va='center', family=SERIF)
text_block(268, 131, ['*Дані щоденного аудиту аптечних продажів «PharmXplorer»',
                      'компанії «Proxima Research».'], 3.0, fontsize=2.0, style='italic',
           family=SERIF)

# ---------- charts ----------
LX, LW = 22, 159
RX, RW = 185, 162
ROWS = [(145, 68), (218, 66), (290, 64), (362, 66), (436, 64)]
FMT1 = '{x:.1f}'
FMT0 = '{x:.0f}'

bar_chart(LX, ROWS[0][0], LW, ROWS[0][1], 1, FIG1_SALES, FIG1_PACKS,
          ['Обсяг продажу, млн грн', 'Обсяг продажу, млн уп.'], ['Млн грн', 'Млн упаковок'],
          (450, 50), (16, 2, FMT1),
          'Динаміка обсягу аптечних продажів у грошовому та натуральному вираженні по днях '
          'за період з 1.01.2020 по 26.04.2020 р.')
bar_chart(RX, ROWS[0][0], RW, ROWS[0][1], 2, FIG2_SALES, FIG2_PACKS,
          ['Обсяг продажу ЛЗ, млн грн', 'Обсяг продажу ЛЗ, млн уп.'], ['Млн грн', 'Млн упаковок'],
          (400, 50), (14, 2, FMT1),
          'Динаміка обсягу аптечних продажів лікарських засобів у грошовому та натуральному '
          'вираженні по днях з 1.01.2020 по 26.04.2020 р.')
bar_chart(LX, ROWS[1][0], LW, ROWS[1][1], 3, FIG3_SALES, FIG3_PACKS,
          ['Обсяг продажу, млн грн', 'Обсяг продажу, млн уп.'], ['Млн грн', 'Млн упаковок'],
          (40, 5), (4, 0.5, '{x:.2f}'),
          'Динаміка обсягу аптечних продажів препаратів АТС-групи J05 «Противірусні засоби для '
          'системного застосування» з 1.01.2020 по 26.04.2020 р.')
bar_chart(RX, ROWS[1][0], RW, ROWS[1][1], 4, FIG4_SALES, FIG4_PACKS,
          ['Обсяг продажу, млн грн', 'Обсяг продажу, млн уп.'], ['Млн грн', 'Млн упаковок'],
          (250, 25), (25, 2.5, FMT1),
          'Динаміка обсягу аптечних продажів препаратів АТС-групи A11 «Вітаміни» у грошовому '
          'та натуральному вираженні з 1.01.2020 по 26.04.2020 р.')
bar_chart(LX, ROWS[2][0], LW, ROWS[2][1], 5, FIG5_SALES, FIG5_PACKS,
          ['Обсяг продажу, млн грн', 'Обсяг продажу, тис. уп.'], ['Млн грн', 'Тис. упаковок'],
          (30, 2.5), (900, 100, FMT0),
          'Динаміка обсягу аптечних продажів медичних масок у грошовому та натуральному '
          'вираженні по днях з 1.01.2020 по 26.04.2020 р.')
bar_chart(RX, ROWS[2][0], RW, ROWS[2][1], 6, FIG6_SALES, FIG6_PACKS,
          ['Обсяг продажу, млн грн', 'Обсяг продажу, млн уп.'], ['Млн грн', 'Млн упаковок'],
          (200, 25), (6, 1, FMT1),
          'Динаміка обсягу аптечних продажів препаратів АТС-групи R05 «Засоби, що застосовуються '
          'при кашлі та застудних захворюваннях» з 1.01.2020 по 26.04.2020 р.')
line_chart(LX, ROWS[3][0], LW, ROWS[3][1], 7,
           [FIG7_ANTISEPTIC, FIG7_MASKS, FIG7_THERMO],
           ['Антисептики для рук,\nтис. уп.', 'Маски медичні,\nтис. уп.',
            'Термометри медичні,\nтис. уп.'],
           ['#3c78b4', '#8e2a5a', '#e8c44a'], 300, 50, 'Тис. уп.',
           'Динаміка обсягу аптечних продажів антисептиків, медичних масок і термометрів '
           'у натуральному вираженні з 1.01.2020 по 26.04.2020 р.')
line_chart(RX, ROWS[3][0], RW, ROWS[3][1], 8,
           [FIG8_N02, FIG8_R05, FIG8_J01, FIG8_M01, FIG8_A11],
           ['N02 Анальгетики\nта антипіретики', 'R05 Засоби від кашлю\nта застуди',
            'J01 Антибактеріальні\nзасоби', 'M01 Протизапальні\nзасоби', 'A11 Вітаміни'],
           ['#7cc3de', '#c95a9a', '#f0c65a', '#2a9aa8', '#6a3d8f'], 250, 50, 'Млн грн',
           'Динаміка обсягу аптечних продажів препаратів топ-5 АТС-груп 2-го рівня у грошовому '
           'вираженні з 1.01.2020 по 26.04.2020 р.')
bar_chart(LX, ROWS[4][0], LW, ROWS[4][1], 9, FIG9_PACKS, FIG9_PRICE,
          ['Обсяг продажу, тис. уп.', 'Середня вартість упаковки, грн'], ['Тис. уп.', 'Грн'],
          (3500, 500), (250, 50, FMT0),
          'Динаміка обсягу аптечних продажів у натуральному вираженні та середньої вартості '
          'упаковки з 1.01.2020 по 26.04.2020 р.')
line_chart(RX, ROWS[4][0], RW, ROWS[4][1], 10,
           [FIG10_CITRAMON, FIG10_PARACETAMOL, FIG10_ANALGIN, FIG10_ASCORBIC, FIG10_CORVALOL],
           ['ЦИТРАМОН-ДАРНИЦЯ', 'ПАРАЦЕТАМОЛ-ДАРНИЦЯ', 'АНАЛЬГІН-ДАРНИЦЯ',
            'АСКОРБІНОВА КИСЛОТА', 'КОРВАЛОЛ'],
           ['#3c6fb4', '#c95a9a', '#f0c65a', '#7cc3de', '#6a3d8f'], 250, 25, 'Тис. уп.',
           'Динаміка обсягу аптечних продажів топ-5 брендів за кількістю проданих упаковок '
           'з 1.01.2020 по 26.04.2020 р.')

ftext(345, 511, 'Щотижневик АПТЕКА № 16 (1238) • 27 квітня 2020 р. • www.apteka.ua',
      fontsize=2.5, ha='right', va='center', color='#222222')

fig.savefig('out.png', dpi=100)
